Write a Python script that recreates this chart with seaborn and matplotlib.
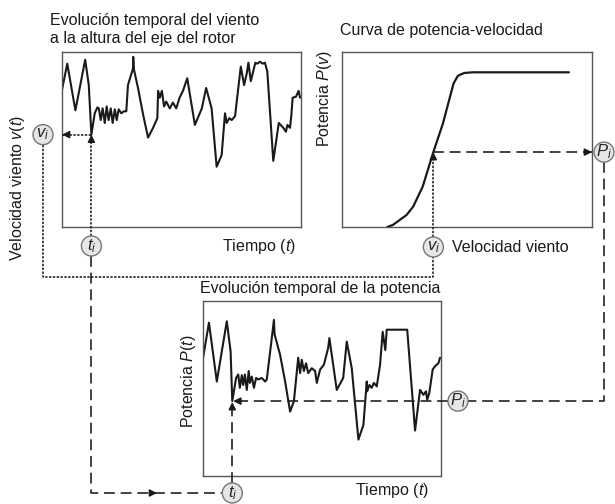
import matplotlib
matplotlib.use('Agg')
import matplotlib.pyplot as plt
from matplotlib.patches import Circle
import seaborn as sns

# wind speed at hub height (m/s), time in % of the window
wind_t = [0, 2.2, 5.6, 9.7, 11.2, 12.3, 13.7, 14.8, 15.4, 16.2, 17.0, 17.9, 18.7, 19.5, 20.4,
          21.2, 22.1, 22.9, 23.7, 24.8, 25.9, 26.9, 27.6, 29.7, 29.8, 30.1, 31.8, 33.9, 36.0,
          38.1, 39.9, 40.2, 40.9, 41.8, 42.7, 43.6, 45.1, 46.4, 47.8, 49.2, 50.6, 52.4, 55.6,
          58.5, 60.3, 62.6, 64.7, 66.8, 68.2, 68.9, 70.0, 71.0, 72.4, 73.3, 74.8, 76.2, 77.3,
          78.0, 79.0, 80.0, 80.9, 81.7, 82.8, 84.0, 84.9, 85.9, 88.4, 90.7, 92.6, 93.7, 94.3,
          95.4, 96.0, 96.5, 97.9, 99.0, 99.6]
wind_v = [14.1, 16.8, 12.0, 17.2, 14.6, 9.5, 11.7, 12.3, 12.2, 11.0, 12.2, 10.7, 12.4, 11.0, 12.2,
          10.7, 12.1, 11.0, 12.1, 11.7, 11.9, 11.9, 14.6, 16.3, 17.5, 16.2, 14.3, 11.6, 9.2,
          10.2, 11.2, 14.0, 13.3, 14.0, 12.4, 12.9, 12.2, 12.8, 12.2, 13.3, 14.0, 15.3, 10.5,
          12.2, 14.3, 12.2, 6.2, 7.4, 11.7, 10.7, 11.2, 11.0, 11.4, 13.3, 16.5, 14.6, 15.8,
          16.9, 15.0, 16.0, 16.9, 16.8, 17.0, 16.8, 16.9, 16.0, 6.8, 10.7, 10.2, 9.8, 10.5,
          10.2, 11.6, 13.3, 13.4, 14.0, 13.3]

# power output (kW) over the same window
power_t = [0.1, 2.5, 5.8, 10.0, 11.6, 12.3, 13.9, 14.8, 15.5, 16.3, 16.9, 17.6, 18.4, 19.2, 19.7,
           20.5, 21.4, 22.3, 23.2, 24.7, 26.1, 26.8, 28.9, 29.8, 30.1, 32.4, 34.5, 36.6, 38.2,
           40.0, 40.8, 41.5, 42.4, 43.3, 44.2, 45.7, 47.1, 47.8, 49.2, 50.8, 52.6, 53.1, 56.2,
           58.9, 60.4, 62.5, 65.3, 67.4, 68.8, 69.0, 69.9, 70.9, 71.8, 73.0, 74.4, 75.5, 76.6,
           77.2, 85.8, 89.1, 91.2, 92.6, 93.7, 94.2, 95.1, 96.5, 97.5, 98.9, 99.6]
power_p = [1700, 2190, 1350, 2210, 1780, 1070, 1400, 1450, 1260, 1440, 1300, 1450, 1230, 1500, 1330,
           1420, 1260, 1400, 1380, 1400, 1350, 1380, 1970, 2230, 2020, 1730, 1350, 920, 1070,
           1690, 1470, 1660, 1500, 1610, 1470, 1540, 1500, 1330, 1520, 1590, 1830, 1970, 1230,
           1400, 1920, 1540, 520, 730, 1350, 1210, 1300, 1260, 1330, 1280, 1590, 2060, 1800,
           2090, 2090, 650, 1230, 1160, 1210, 1090, 1190, 1520, 1570, 1610, 1690]

# power curve of the turbine
curve_v = [4.7, 5.3, 6.0, 6.7, 7.4, 8.4, 9.5, 10.5, 11.6, 12.05, 12.7, 13.6, 23.6]
curve_p = [0, 30, 100, 170, 290, 580, 1070, 1480, 2050, 2160, 2200, 2210, 2210]

# the sample followed through the diagram
t_i = 12.3
v_i = 9.5
p_i = 1070

sns.set_theme(style='white')
plt.rcParams['font.family'] = ['Liberation Sans', 'DejaVu Sans']
plt.rcParams['mathtext.fontset'] = 'custom'
plt.rcParams['mathtext.rm'] = 'Liberation Sans'
plt.rcParams['mathtext.it'] = 'Liberation Sans:italic'

W, H = 615, 504
fig = plt.figure(figsize=(W / 100, H / 100), dpi=100)


def box(x0, y0, x1, y1):
    return fig.add_axes([x0 / W, 1 - y1 / H, (x1 - x0) / W, (y1 - y0) / H])


ax_w = box(62, 52, 301, 227)
ax_c = box(342, 52, 592, 227)
ax_p = box(203, 301, 441, 476)

sns.lineplot(x=wind_t, y=wind_v, ax=ax_w, color='k', lw=1.5, sort=False, estimator=None)
sns.lineplot(x=curve_v, y=curve_p, ax=ax_c, color='k', lw=1.6, sort=False, estimator=None)
sns.lineplot(x=power_t, y=power_p, ax=ax_p, color='k', lw=1.5, sort=False, estimator=None)

ax_w.set_xlim(0, 100)
ax_w.set_ylim(0, 18)
ax_c.set_xlim(0, 26)
ax_c.set_ylim(0, 2500)
ax_p.set_xlim(0, 100)
ax_p.set_ylim(0, 2500)
for ax in (ax_w, ax_c, ax_p):
    ax.set_xticks([])
    ax.set_yticks([])
    ax.set_xlabel('')
    ax.set_ylabel('')
    for s in ax.spines.values():
        s.set_color('#555555')
        s.set_linewidth(1.0)

# overlay in pixel units for connectors, nodes and labels
ov = fig.add_axes([0, 0, 1, 1], zorder=5)
ov.set_xlim(0, W)
ov.set_ylim(H, 0)
ov.axis('off')
ov.patch.set_alpha(0)


def px(ax, x, y):
    return ov.transData.inverted().transform(ax.transData.transform((x, y)))


dot = dict(color='#222222', lw=1.2, ls=(0, (1.4, 0.9)), zorder=4)
dash = dict(color='#222222', lw=1.2, ls=(0, (6.5, 3.5)), zorder=4)
R = 10


def node(x, y, label):
    ov.add_patch(Circle((x, y), R, fc='#e6e6e6', ec='#777777', lw=1.0, zorder=6))
    ov.text(x, y, label, ha='center', va='center', fontsize=12, zorder=7)


def head(x, y, dx, dy):
    ov.annotate('', xy=(x, y), xytext=(x - dx * 7, y - dy * 7),
                arrowprops=dict(arrowstyle='-|>', color='k', lw=1, mutation_scale=11,
                                shrinkA=0, shrinkB=0), zorder=8)


A = px(ax_w, t_i, v_i)
left_edge = px(ax_w, 0, v_i)
B = px(ax_c, v_i, p_i)
right_edge = px(ax_c, 26, p_i)
C = px(ax_p, t_i, p_i)

vn1 = (43, A[1])
tn1 = (A[0], 246)
vn2 = (B[0], 247)
pn1 = (604, B[1])
pn2 = (458, C[1])
tn2 = (C[0], 493)
y_low = 277

# wind value
ov.plot([A[0], left_edge[0]], [A[1], A[1]], **dot)
head(left_edge[0], A[1], -1, 0)
ov.plot([tn1[0], tn1[0]], [tn1[1] - R, A[1]], **dot)
head(A[0], A[1], 0, -1)

# carried over to the power curve
ov.plot([vn1[0], vn1[0], vn2[0], vn2[0]], [vn1[1] + R, y_low, y_low, vn2[1] + R], **dot)
ov.plot([vn2[0], vn2[0]], [vn2[1] - R, B[1]], **dot)
head(B[0], B[1], 0, -1)

# power
ov.plot([B[0], right_edge[0]], [B[1], B[1]], **dash)
head(right_edge[0], B[1], 1, 0)
ov.plot([pn1[0], pn1[0], pn2[0] + R], [pn1[1] + R, pn2[1], pn2[1]], **dash)
ov.plot([pn2[0] - R, C[0]], [C[1], C[1]], **dash)
head(C[0] + 1, C[1], -1, 0)

# same instant on the power time series
ov.plot([tn1[0], tn1[0], tn2[0] - R], [tn1[1] + R, tn2[1], tn2[1]], **dash)
head(157, tn2[1], 1, 0)
ov.plot([tn2[0], tn2[0]], [tn2[1] - R, C[1]], **dash)
head(C[0], C[1] + 1, 0, -1)

node(vn1[0], vn1[1], '$v_i$')
node(tn1[0], tn1[1], '$t_i$')
node(vn2[0], vn2[1], '$v_i$')
node(pn1[0], pn1[1], '$P_i$')
node(pn2[0], pn2[1], '$P_i$')
node(tn2[0], tn2[1], '$t_i$')

txt = dict(fontsize=11.5, color='#1a1a1a', va='center')
ov.text(50, 21, 'Evolución temporal del viento', ha='left', **txt)
ov.text(50, 39, 'a la altura del eje del rotor', ha='left', **txt)
ov.text(340, 30, 'Curva de potencia-velocidad', ha='left', **txt)
ov.text(18, 188, 'Velocidad viento $v$($t$)', ha='center', rotation=90, **txt)
ov.text(222, 246, 'Tiempo ($t$)', ha='left', **txt)
ov.text(325, 98, 'Potencia $P$($v$)', ha='center', rotation=90, **txt)
ov.text(452, 247, 'Velocidad viento', ha='left', **txt)
ov.text(320, 289, 'Evolución temporal de la potencia', ha='center', **txt)
ov.text(188, 381, 'Potencia $P$($t$)', ha='center', rotation=90, **txt)
ov.text(355, 491, 'Tiempo ($t$)', ha='left', **txt)

fig.savefig('out.png', dpi=100, facecolor='white')
